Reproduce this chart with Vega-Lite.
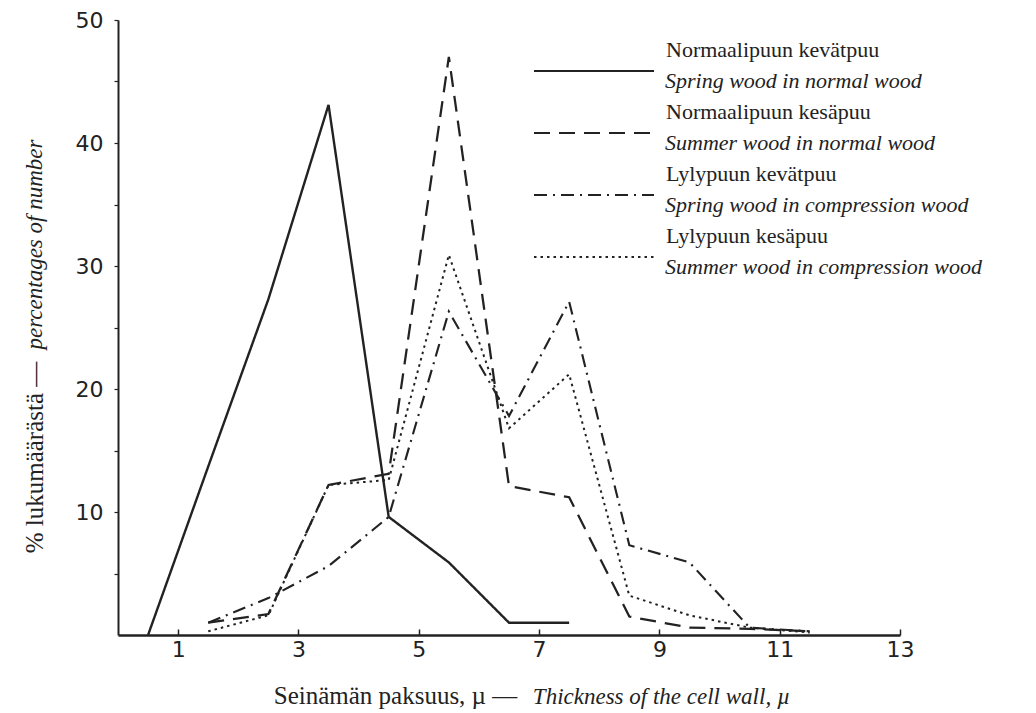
{
  "$schema": "https://vega.github.io/schema/vega-lite/v6.json",
  "width": 782,
  "height": 615,
  "autosize": "none",
  "padding": {"left": 118, "top": 20, "right": 136, "bottom": 78},
  "background": "white",
  "config": {
    "view": {"stroke": null},
    "font": "Liberation Serif",
    "axis": {"grid": false, "titleFontWeight": "normal", "titleColor": "#222", "labelColor": "#222", "domainColor": "#222", "tickColor": "#222"}
  },
  "data": {
    "values": [
      {"sarja": "Normaalipuun kevätpuu", "series": "Spring wood in normal wood", "paksuus": 0.5, "osuus": 0},
      {"sarja": "Normaalipuun kevätpuu", "series": "Spring wood in normal wood", "paksuus": 1.5, "osuus": 13.7},
      {"sarja": "Normaalipuun kevätpuu", "series": "Spring wood in normal wood", "paksuus": 2.5, "osuus": 27.3},
      {"sarja": "Normaalipuun kevätpuu", "series": "Spring wood in normal wood", "paksuus": 3.5, "osuus": 43.1},
      {"sarja": "Normaalipuun kevätpuu", "series": "Spring wood in normal wood", "paksuus": 4.5, "osuus": 9.6},
      {"sarja": "Normaalipuun kevätpuu", "series": "Spring wood in normal wood", "paksuus": 5.5, "osuus": 5.9},
      {"sarja": "Normaalipuun kevätpuu", "series": "Spring wood in normal wood", "paksuus": 6.5, "osuus": 1.0},
      {"sarja": "Normaalipuun kevätpuu", "series": "Spring wood in normal wood", "paksuus": 7.5, "osuus": 1.0},

      {"sarja": "Normaalipuun kesäpuu", "series": "Summer wood in normal wood", "paksuus": 1.5, "osuus": 1.0},
      {"sarja": "Normaalipuun kesäpuu", "series": "Summer wood in normal wood", "paksuus": 2.5, "osuus": 1.7},
      {"sarja": "Normaalipuun kesäpuu", "series": "Summer wood in normal wood", "paksuus": 3.5, "osuus": 12.2},
      {"sarja": "Normaalipuun kesäpuu", "series": "Summer wood in normal wood", "paksuus": 4.5, "osuus": 13.1},
      {"sarja": "Normaalipuun kesäpuu", "series": "Summer wood in normal wood", "paksuus": 5.5, "osuus": 47.0},
      {"sarja": "Normaalipuun kesäpuu", "series": "Summer wood in normal wood", "paksuus": 6.5, "osuus": 12.1},
      {"sarja": "Normaalipuun kesäpuu", "series": "Summer wood in normal wood", "paksuus": 7.5, "osuus": 11.2},
      {"sarja": "Normaalipuun kesäpuu", "series": "Summer wood in normal wood", "paksuus": 8.5, "osuus": 1.5},
      {"sarja": "Normaalipuun kesäpuu", "series": "Summer wood in normal wood", "paksuus": 9.5, "osuus": 0.6},
      {"sarja": "Normaalipuun kesäpuu", "series": "Summer wood in normal wood", "paksuus": 10.5, "osuus": 0.5},
      {"sarja": "Normaalipuun kesäpuu", "series": "Summer wood in normal wood", "paksuus": 11.5, "osuus": 0.3},

      {"sarja": "Lylypuun kevätpuu", "series": "Spring wood in compression wood", "paksuus": 1.5, "osuus": 1.0},
      {"sarja": "Lylypuun kevätpuu", "series": "Spring wood in compression wood", "paksuus": 2.5, "osuus": 3.0},
      {"sarja": "Lylypuun kevätpuu", "series": "Spring wood in compression wood", "paksuus": 3.5, "osuus": 5.6},
      {"sarja": "Lylypuun kevätpuu", "series": "Spring wood in compression wood", "paksuus": 4.5, "osuus": 9.6},
      {"sarja": "Lylypuun kevätpuu", "series": "Spring wood in compression wood", "paksuus": 5.5, "osuus": 26.3},
      {"sarja": "Lylypuun kevätpuu", "series": "Spring wood in compression wood", "paksuus": 6.5, "osuus": 17.8},
      {"sarja": "Lylypuun kevätpuu", "series": "Spring wood in compression wood", "paksuus": 7.5, "osuus": 27.1},
      {"sarja": "Lylypuun kevätpuu", "series": "Spring wood in compression wood", "paksuus": 8.5, "osuus": 7.3},
      {"sarja": "Lylypuun kevätpuu", "series": "Spring wood in compression wood", "paksuus": 9.5, "osuus": 5.9},
      {"sarja": "Lylypuun kevätpuu", "series": "Spring wood in compression wood", "paksuus": 10.5, "osuus": 0.6},
      {"sarja": "Lylypuun kevätpuu", "series": "Spring wood in compression wood", "paksuus": 11.5, "osuus": 0.3},

      {"sarja": "Lylypuun kesäpuu", "series": "Summer wood in compression wood", "paksuus": 1.5, "osuus": 0.3},
      {"sarja": "Lylypuun kesäpuu", "series": "Summer wood in compression wood", "paksuus": 2.5, "osuus": 1.6},
      {"sarja": "Lylypuun kesäpuu", "series": "Summer wood in compression wood", "paksuus": 3.5, "osuus": 12.2},
      {"sarja": "Lylypuun kesäpuu", "series": "Summer wood in compression wood", "paksuus": 4.5, "osuus": 12.6},
      {"sarja": "Lylypuun kesäpuu", "series": "Summer wood in compression wood", "paksuus": 5.5, "osuus": 30.9},
      {"sarja": "Lylypuun kesäpuu", "series": "Summer wood in compression wood", "paksuus": 6.5, "osuus": 16.8},
      {"sarja": "Lylypuun kesäpuu", "series": "Summer wood in compression wood", "paksuus": 7.5, "osuus": 21.2},
      {"sarja": "Lylypuun kesäpuu", "series": "Summer wood in compression wood", "paksuus": 8.5, "osuus": 3.2},
      {"sarja": "Lylypuun kesäpuu", "series": "Summer wood in compression wood", "paksuus": 9.5, "osuus": 1.6},
      {"sarja": "Lylypuun kesäpuu", "series": "Summer wood in compression wood", "paksuus": 10.5, "osuus": 0.6},
      {"sarja": "Lylypuun kesäpuu", "series": "Summer wood in compression wood", "paksuus": 11.5, "osuus": 0.2}
    ]
  },
  "layer": [
    {
      "mark": {"type": "line", "strokeJoin": "miter"},
      "encoding": {
        "x": {
          "field": "paksuus", "type": "quantitative",
          "scale": {"domain": [0, 13], "nice": false, "zero": false},
          "axis": {
            "values": [1, 3, 5, 7, 9, 11, 13], "format": "d", "labelFlush": false,
            "domainWidth": 2.5, "tickSize": -6, "tickWidth": 1.5,
            "labelFont": "DejaVu Sans", "labelFontSize": 22, "labelPadding": 10,
            "title": "Seinämän paksuus, µ —",
            "titleFont": "Liberation Serif", "titleFontSize": 25,
            "titleX": 277, "titleY": 68, "titleAlign": "center", "titleBaseline": "alphabetic"
          }
        },
        "y": {
          "field": "osuus", "type": "quantitative",
          "scale": {"domain": [0, 50], "nice": false},
          "axis": {
            "values": [5, 10, 15, 20, 25, 30, 35, 40, 45, 50],
            "labelExpr": "datum.value % 10 == 0 ? datum.label : ''",
            "labelFlush": false,
            "domainWidth": 2, "tickSize": 4, "tickWidth": 1.2,
            "labelFont": "DejaVu Sans", "labelFontSize": 22, "labelPadding": 11,
            "title": "% lukumäärästä —",
            "titleFont": "Liberation Serif", "titleFontSize": 25,
            "titleX": -84, "titleY": 437, "titleAlign": "center", "titleBaseline": "middle"
          }
        },
        "strokeDash": {
          "field": "series", "type": "nominal",
          "scale": {
            "domain": ["Spring wood in normal wood", "Summer wood in normal wood", "Spring wood in compression wood", "Summer wood in compression wood"],
            "range": [[1, 0], [16, 9], [13, 6, 2, 6], [2.5, 4]]
          },
          "legend": {
            "title": null, "orient": "none", "direction": "vertical",
            "legendX": 415, "legendY": 20, "padding": 0,
            "symbolType": "stroke", "symbolSize": 14400, "symbolStrokeWidth": 2,
            "symbolStrokeColor": "#222",
            "labelFont": "Liberation Serif", "labelFontStyle": "italic", "labelFontSize": 22, "labelColor": "#222",
            "labelLimit": 500, "labelOffset": 10,
            "labelBaseline": "top",
            "clipHeight": 62, "rowPadding": 0
          }
        },
        "color": {
          "field": "sarja", "type": "nominal",
          "scale": {
            "domain": ["Normaalipuun kevätpuu", "Normaalipuun kesäpuu", "Lylypuun kevätpuu", "Lylypuun kesäpuu"],
            "range": ["#222222", "#222222", "#222222", "#222222"]
          },
          "legend": {
            "title": null, "orient": "none", "direction": "vertical",
            "legendX": 415, "legendY": 11, "padding": 0,
            "symbolType": "stroke", "symbolSize": 14400, "symbolStrokeWidth": 2,
            "symbolOpacity": 0,
            "labelFont": "Liberation Serif", "labelFontSize": 22, "labelColor": "#222",
            "labelLimit": 500, "labelOffset": 10,
            "labelBaseline": "bottom",
            "clipHeight": 62, "rowPadding": 0
          }
        },
        "strokeWidth": {
          "field": "sarja", "type": "nominal",
          "scale": {
            "domain": ["Normaalipuun kevätpuu", "Normaalipuun kesäpuu", "Lylypuun kevätpuu", "Lylypuun kesäpuu"],
            "range": [2.4, 2, 1.7, 2.2]
          },
          "legend": null
        }
      }
    },
    {
      "mark": {"type": "point", "opacity": 0},
      "encoding": {
        "x": {
          "field": "paksuus", "type": "quantitative",
          "axis": {
            "orient": "bottom", "domain": false, "ticks": false, "labels": false,
            "title": "Thickness of the cell wall, µ",
            "titleFont": "Liberation Serif", "titleFontSize": 23, "titleFontStyle": "italic",
            "titleX": 543, "titleY": 68, "titleAlign": "center", "titleBaseline": "alphabetic"
          }
        },
        "y": {
          "field": "osuus", "type": "quantitative",
          "axis": {
            "orient": "left", "domain": false, "ticks": false, "labels": false,
            "title": "percentages of number",
            "titleFont": "Liberation Serif", "titleFontSize": 23, "titleFontStyle": "italic",
            "titleX": -84, "titleY": 224, "titleAlign": "center", "titleBaseline": "middle"
          }
        }
      }
    }
  ],
  "resolve": {"axis": {"x": "independent", "y": "independent"}}
}
